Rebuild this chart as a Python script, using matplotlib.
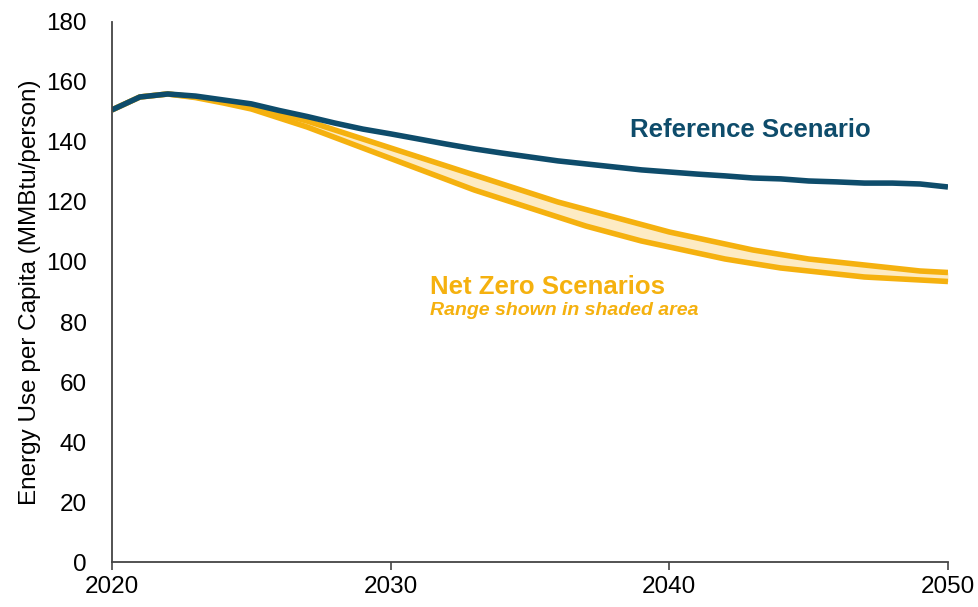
import numpy as np
import matplotlib.pyplot as plt

plt.rcParams['font.family'] = ['Liberation Sans', 'DejaVu Sans']

years = np.arange(2020, 2051)

reference = [150.7, 155.0, 156.0, 155.3, 154.0, 152.7, 150.5, 148.5, 146.3, 144.3,
             142.7, 141.0, 139.3, 137.7, 136.3, 135.0, 133.7, 132.7, 131.7, 130.7,
             130.0, 129.3, 128.7, 128.0, 127.7, 127.0, 126.7, 126.3, 126.3, 126.0,
             125.0]

nz_high = [150.7, 155.0, 156.0, 155.0, 153.5, 152.0, 149.5, 147.0, 144.0, 141.0,
           138.0, 135.0, 132.0, 129.0, 126.0, 123.0, 120.0, 117.5, 115.0, 112.5,
           110.0, 108.0, 106.0, 104.0, 102.5, 101.0, 100.0, 99.0, 98.0, 97.0,
           96.5]

nz_low = [150.7, 155.0, 156.0, 154.8, 153.0, 151.0, 148.0, 145.0, 141.5, 138.0,
          134.5, 131.0, 127.5, 124.0, 121.0, 118.0, 115.0, 112.0, 109.5, 107.0,
          105.0, 103.0, 101.0, 99.5, 98.0, 97.0, 96.0, 95.0, 94.5, 94.0,
          93.5]

ref_color = '#0e4c6b'
nz_color = '#f5b10f'

fig = plt.figure(figsize=(9.79, 6.07), dpi=100)
ax = fig.add_axes([0.1144, 0.0741, 0.8539, 0.8897])

ax.fill_between(years, nz_low, nz_high, color='#fdebc4', lw=0)
ax.plot(years, nz_high, color=nz_color, lw=4, solid_capstyle='butt')
ax.plot(years, nz_low, color=nz_color, lw=4, solid_capstyle='butt')
ax.plot(years, reference, color=ref_color, lw=4, solid_capstyle='butt')

ax.set_xlim(2020, 2050)
ax.set_ylim(0, 180)
ax.set_xticks([2020, 2030, 2040, 2050])
ax.set_yticks(np.arange(0, 181, 20))
ax.tick_params(axis='y', length=0, labelsize=17.5, pad=18)
ax.tick_params(axis='x', length=6, width=1.2, labelsize=17.5, color='#444444', pad=4)
for s in ['top', 'right']:
    ax.spines[s].set_visible(False)
for s in ['left', 'bottom']:
    ax.spines[s].set_color('#444444')
    ax.spines[s].set_linewidth(1.3)

ax.set_ylabel('Energy Use per Capita (MMBtu/person)', fontsize=17.5, labelpad=4)

ax.text(2038.6, 144, 'Reference Scenario', color=ref_color, fontsize=18.5,
        fontweight='bold', va='center')
ax.text(2031.4, 91.7, 'Net Zero Scenarios', color=nz_color, fontsize=18.5,
        fontweight='bold', va='center')
ax.text(2031.4, 83.7, 'Range shown in shaded area', color=nz_color, fontsize=14,
        fontweight='bold', fontstyle='italic', va='center')

fig.savefig('out.png', dpi=100)
